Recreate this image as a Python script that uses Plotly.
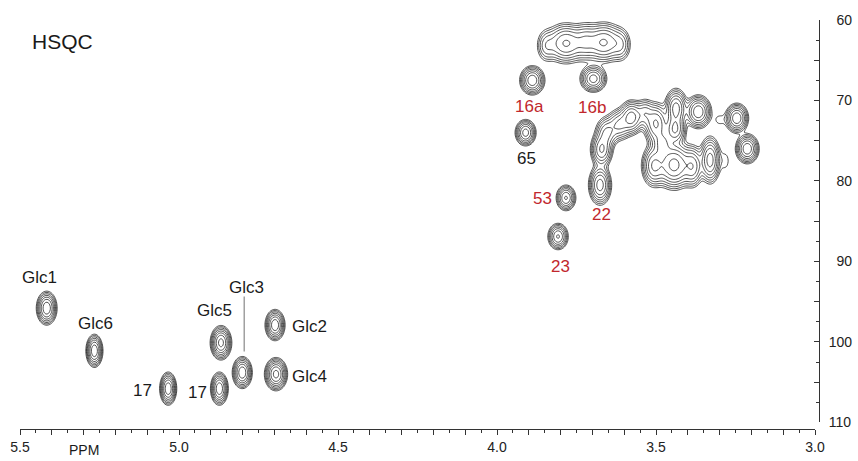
import numpy as np
import plotly.graph_objects as go

# ---- Peak table (1H ppm, 13C ppm, widths, height) ----
peak_h = [5.416, 5.266, 4.868, 4.801, 4.698, 4.695, 5.034, 4.873,
          3.889, 3.697, 3.910, 3.783, 3.808,
          3.845, 3.783, 3.722, 3.664, 3.610,
          3.676, 3.671, 3.655, 3.615, 3.577, 3.535,
          3.500, 3.437, 3.440, 3.367, 3.443, 3.506, 3.330, 3.480, 3.385,
          3.246, 3.213, 3.300, 3.282]
peak_c = [95.8, 101.1, 100.1, 103.8, 97.9, 104.0, 105.8, 105.8,
          67.5, 67.3, 74.0, 82.1, 86.9,
          63.2, 62.9, 62.7, 62.8, 63.1,
          80.5, 76.1, 74.0, 73.0, 72.1, 71.6,
          72.9, 71.0, 73.6, 71.4, 78.0, 78.1, 77.4, 75.4, 78.2,
          72.2, 76.0, 72.4, 77.5]
peak_wh = [0.0140, 0.0115, 0.0140, 0.0135, 0.0135, 0.0150, 0.0115, 0.0120,
           0.0170, 0.0185, 0.0145, 0.0140, 0.0145,
           0.016, 0.030, 0.020, 0.030, 0.016,
           0.016, 0.016, 0.017, 0.019, 0.017, 0.015,
           0.018, 0.016, 0.016, 0.018, 0.026, 0.018, 0.015, 0.016, 0.016,
           0.016, 0.016, 0.014, 0.012]
peak_wc = [0.90, 0.88, 0.88, 0.85, 0.83, 0.85, 0.88, 0.88,
           0.78, 0.74, 0.72, 0.72, 0.74,
           1.05, 1.15, 1.15, 1.15, 1.05,
           1.10, 1.00, 0.95, 0.95, 0.95, 0.90,
           1.20, 1.10, 0.90, 0.90, 1.30, 1.20, 1.30, 0.90, 1.20,
           0.80, 0.80, 0.60, 1.00]
peak_amp = [16, 16, 20, 16, 16, 20, 16, 16,
            16, 14, 14, 12, 12,
            4, 12, 6, 12, 4,
            14, 12, 8, 8, 14, 6,
            12, 14, 12, 16, 20, 12, 14, 8, 10,
            16, 16, 1.3, 1.3]

# ---- labels ----
black_labels = ["Glc1", "Glc6", "Glc5", "Glc3", "Glc2", "Glc4", "17", "17", "65"]
black_lab_h = [5.440, 5.264, 4.888, 4.788, 4.591, 4.591, 5.115, 4.942, 3.907]
black_lab_c = [91.96, 97.74, 96.13, 93.26, 98.12, 104.34, 106.08, 106.33, 77.21]
red_labels = ["16a", "16b", "53", "22", "23"]
red_lab_h = [3.898, 3.701, 3.857, 3.670, 3.799]
red_lab_c = [70.80, 70.83, 82.19, 84.12, 90.59]
glc3_line_h = [4.795, 4.795]
glc3_line_c = [94.35, 101.19]

x_tick_vals = [round(v, 2) for v in np.arange(3.0, 5.501, 0.1)]
y_tick_vals = list(range(60, 111, 5))

# ---- build intensity grid ----
gx = np.arange(3.0, 5.5001, 0.0035)
gy = np.arange(59.0, 111.0, 0.2)
X, Y = np.meshgrid(gx, gy)
I = np.zeros_like(X)
for h, c, wh, wc, a in zip(peak_h, peak_c, peak_wh, peak_wc, peak_amp):
    I += a * np.exp(-0.5 * (((X - h) / wh) ** 2 + ((Y - c) / wc) ** 2))
Z = np.log10(I + 1e-3).astype(np.float32)

fig = go.Figure()
fig.add_trace(go.Contour(
    x=gx, y=gy, z=Z,
    contours=dict(start=0.0, end=3.0, size=0.176, coloring="lines"),
    autocontour=False,
    colorscale=[[0, "#1a1a1a"], [1, "#1a1a1a"]],
    line=dict(width=0.75),
    showscale=False, hoverinfo="skip",
))

font_family = "Liberation Sans, Arial, sans-serif"
ann = []
for t, h, c in zip(black_labels, black_lab_h, black_lab_c):
    ann.append(dict(x=h, y=c, xref="x", yref="y", text=t, showarrow=False,
                    font=dict(family=font_family, size=17, color="#1a1a1a"),
                    xanchor="center", yanchor="middle"))
for t, h, c in zip(red_labels, red_lab_h, red_lab_c):
    ann.append(dict(x=h, y=c, xref="x", yref="y", text=t, showarrow=False,
                    font=dict(family=font_family, size=17, color="#c1272d"),
                    xanchor="center", yanchor="middle"))
ann.append(dict(x=5.365, y=62.65, xref="x", yref="y", text="HSQC", showarrow=False,
                font=dict(family=font_family, size=21, color="#1a1a1a"),
                xanchor="center", yanchor="middle"))
ann.append(dict(x=5.299, y=-0.052, xref="x", yref="paper", text="PPM", showarrow=False,
                font=dict(family=font_family, size=14, color="#1a1a1a"),
                xanchor="center", yanchor="middle", borderpad=0))

fig.add_shape(type="line", xref="x", yref="y",
              x0=glc3_line_h[0], x1=glc3_line_h[1], y0=glc3_line_c[0], y1=glc3_line_c[1],
              line=dict(color="#888888", width=1.2))

x_tick_text = [("%.1f" % v) if abs(v * 2 - round(v * 2)) < 1e-6 else "" for v in x_tick_vals]
y_tick_text = [("\u2007" + str(v) if v < 100 else str(v)) if v % 10 == 0 else "" for v in y_tick_vals]

fig.update_layout(
    width=858, height=461,
    margin=dict(l=20, r=39, t=20, b=32, autoexpand=False),
    paper_bgcolor="white", plot_bgcolor="white",
    annotations=ann,
    showlegend=False,
    xaxis=dict(
        range=[5.5, 3.0], domain=[0, 0.995], anchor="free", position=0, automargin=False,
        showgrid=False, zeroline=False, showline=True, linecolor="#333333", linewidth=1,
        tickmode="array", tickvals=x_tick_vals, ticktext=x_tick_text,
        ticks="outside", ticklen=5, tickcolor="#333333", tickwidth=1,
        minor=dict(tickmode="linear", tick0=3.0, dtick=0.05, ticks="outside",
                   ticklen=3, tickcolor="#333333", tickwidth=1, showgrid=False),
        tickfont=dict(family=font_family, size=14, color="#222222"),
    ),
    yaxis=dict(
        range=[110, 60], domain=[0.016, 1], anchor="free", position=1, side="right",
        automargin=False,
        showgrid=False, zeroline=False, showline=True, linecolor="#333333", linewidth=1,
        tickmode="array", tickvals=y_tick_vals, ticktext=y_tick_text,
        ticks="inside", ticklen=5, tickcolor="#333333", tickwidth=1,
        minor=dict(tickmode="linear", tick0=60, dtick=2.5, ticks="inside",
                   ticklen=3, tickcolor="#333333", tickwidth=1, showgrid=False),
        tickfont=dict(family=font_family, size=14, color="#222222"),
        ticklabelstandoff=6,
    ),
)

fig.write_html("out.html", config={"displayModeBar": False},
               post_script="document.body.style.margin='0px';document.body.style.overflow='hidden';")
